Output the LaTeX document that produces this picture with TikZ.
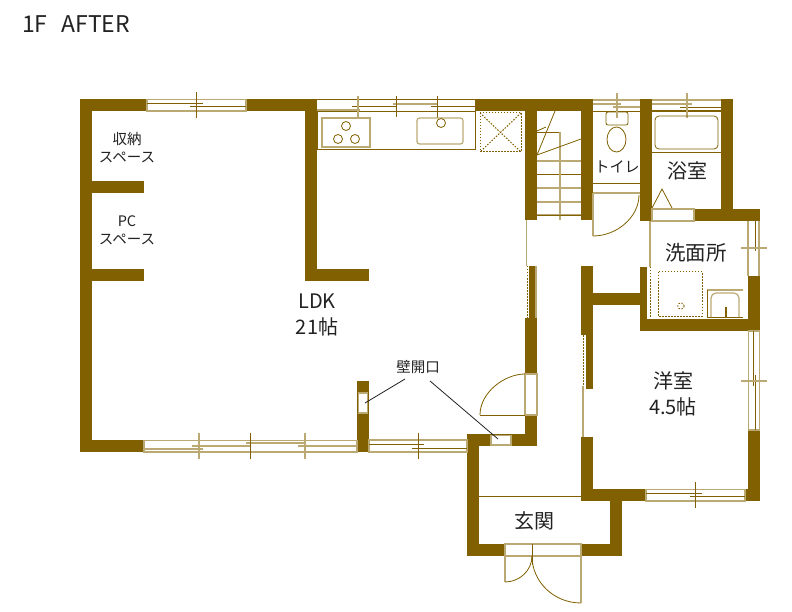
\documentclass[tikz,border=0pt]{standalone}
\usepackage{fontspec}
\setmainfont{Noto Sans CJK JP}
\definecolor{wallbrown}{HTML}{806000}
\definecolor{paletan}{HTML}{BBA973}
\definecolor{inkgray}{HTML}{222222}
\newcommand{\fs}[1]{\fontsize{#1}{#1}\selectfont}
\begin{document}
\begin{tikzpicture}[x=1pt,y=-1pt]
            \tikzstyle{wall}=[fill=wallbrown,draw=none]
            \tikzstyle{sash}=[draw=paletan,line width=1.2pt,fill=white]
            \tikzstyle{pale}=[draw=paletan,line width=1.2pt]
            \tikzstyle{fine}=[draw=wallbrown,line width=.8pt]
            \tikzstyle{dots}=[draw=wallbrown,line width=1pt,dash pattern=on 1.5pt off 1.5pt]
            \tikzstyle{leader}=[draw=inkgray,line width=.8pt]
            \tikzstyle{room}=[text=inkgray,inner sep=0pt,align=center]
            \tikzstyle{smallroom}=[room,font=\fs{14.5}]
            \tikzstyle{bigroom}=[room,font=\fs{20}]

            \useasboundingbox (0,0) rectangle (792,612);

            % outer walls, left block
            \fill[wall] (80,99) rectangle (147,111);
            \fill[wall] (246,99) rectangle (317,111);
            \fill[wall] (80,99) rectangle (92,452);
            \fill[wall] (80,440) rectangle (144,452);
            \fill[wall] (92,181) rectangle (144,193);
            \fill[wall] (92,269) rectangle (144,281);
            \fill[wall] (305,99) rectangle (317,281);
            \fill[wall] (305,269) rectangle (369,281);
            \fill[wall] (357,381) rectangle (369,452);

            % stair and hall walls
            \fill[wall] (475,99) rectangle (593,111);
            \fill[wall] (525,99) rectangle (537,220);
            \fill[wall] (581,99) rectangle (593,220);
            \fill[wall] (529,266) rectangle (535,318);
            \fill[wall] (525,318) rectangle (537,374);
            \fill[wall] (525,415) rectangle (537,446);
            \fill[wall] (467,434) rectangle (537,446);
            \fill[wall] (467,434) rectangle (479,556);
            \fill[wall] (467,544) rectangle (505,556);
            \fill[wall] (581,544) rectangle (622,556);
            \fill[wall] (610,489) rectangle (622,556);

            % bath and washroom walls
            \fill[wall] (640,99) rectangle (652,221);
            \fill[wall] (721,99) rectangle (733,221);
            \fill[wall] (694,209) rectangle (760,221);
            \fill[wall] (748,276) rectangle (760,331);
            \fill[wall] (640,267) rectangle (647,331);
            \fill[wall] (640,319) rectangle (760,331);

            % bedroom walls
            \fill[wall] (581,266) rectangle (593,335);
            \fill[wall] (593,293) rectangle (640,305);
            \fill[wall] (586,335) rectangle (593,389);
            \fill[wall] (581,437) rectangle (593,501);
            \fill[wall] (581,489) rectangle (646,501);
            \fill[wall] (745,489) rectangle (760,501);
            \fill[wall] (748,430) rectangle (760,501);

            % top left window
            \draw[sash] (147,99.5) rectangle (246,111);
            \draw[fine] (147,103) -- (203,103);
            \draw[fine] (190,106) -- (246,106);
            \draw[fine] (196,92) -- (196,118);

            % kitchen window and counter
            \draw[fine] (317,99.5) -- (475,99.5);
            \draw[pale] (317,110) -- (360,110);
            \draw[fine] (317,111.5) rectangle (475,149);
            \draw[fine] (352,106) -- (396,106);
            \draw[pale] (393,104) -- (437,104);
            \draw[fine] (431,106) -- (475,106);
            \draw[pale] (358,96) -- (358,118);
            \draw[fine] (396,96) -- (396,117);
            \draw[fine] (437,96) -- (437,118);
            \draw[pale] (322,118) rectangle (370,147);
            \draw[fine] (346,126) circle (4.5);
            \draw[fine] (338,139) circle (4.5);
            \draw[fine] (355,139) circle (4.5);
            \draw[pale,rounded corners=2.5pt] (417,118) rectangle (463,144);
            \draw[fine,fill=white] (441,123) circle (4.5);

            % fridge space
            \draw[dots] (480,113) rectangle (521,152);
            \draw[dots] (480,113) -- (521,152);
            \draw[dots] (521,113) -- (480,152);

            % stairs
            \draw[fine] (537,132) -- (560,132);
            \draw[pale] (537,161) -- (581,161);
            \draw[fine] (537,174) -- (581,174);
            \draw[pale] (537,188) -- (581,188);
            \draw[pale] (537,202) -- (581,202);
            \draw[pale] (537,215) -- (581,215);
            \draw[pale] (560,132) -- (560,220);
            \draw[fine] (537,155) -- (581,139);
            \draw[fine] (537,155) -- (555,111);
            \draw[fine] (537,131) -- (546,127);

            % toilet
            \draw[pale] (593,100) -- (640,100);
            \draw[fine] (593,111) -- (640,111);
            \draw[pale] (593,104) -- (621,104);
            \draw[pale] (613,107) -- (640,107);
            \draw[fine,rounded corners=2pt] (606,112) rectangle (628,125);
            \draw[fine] (616.5,139.5) ellipse (9.5 and 12.5);
            \draw[pale] (617,93) -- (617,118);
            \draw[fine] (593,183) -- (640,183);
            \draw[pale] (593,193) -- (640,193);
            \draw[pale] (593,193) -- (593,236);
            \draw[fine] (593,236) .. controls (617,236) and (639,217) .. (639,195);

            % bath
            \draw[pale] (652,100) -- (721,100);
            \draw[fine,line width=1.2pt] (652,111) -- (721,111);
            \draw[pale] (652,104) -- (692,104);
            \draw[fine] (680,107) -- (721,107);
            \draw[pale] (687,93) -- (687,118);
            \draw[fine,rounded corners=4pt] (655,116) rectangle (718,149);
            \draw[fine] (652,152) -- (721,152);
            \draw[fine] (652,208) -- (662,189) -- (672,208);
            \draw[sash] (652,209) rectangle (694,221);

            % washroom
            \draw[pale] (650,221) -- (650,267);
            \draw[dots] (650,267) -- (650,318);
            \draw[pale] (748,221) -- (748,276);
            \draw[pale] (759,221) -- (759,276);
            \draw[fine] (755,221) -- (755,251);
            \draw[pale] (741,248) -- (767,248);
            \draw[dots] (658,272) rectangle (702,316);
            \draw[dots,line width=.8pt] (681,306) circle (3.2);
            \draw[pale] (707,290) -- (743,290);
            \draw[fine] (707,290) -- (707,317);
            \draw[fine] (707,317) -- (743,317);
            \draw[pale,rounded corners=5pt] (711,317) -- (711,293) -- (739,293) -- (739,317);
            \draw[fine,line width=1.6pt] (726,307) -- (726,317);

            % bedroom openings
            \draw[sash] (748.5,331) rectangle (759.5,430);
            \draw[fine] (753,331) -- (753,386);
            \draw[fine] (755.5,375) -- (755.5,430);
            \draw[pale] (741,381) -- (767,381);
            \draw[sash] (646,489.5) rectangle (745,501);
            \draw[fine] (646,493) -- (702,493);
            \draw[fine] (690,496) -- (745,496);
            \draw[fine] (695,482) -- (695,508);
            \draw[dots] (583,335) -- (583,386);
            \draw[pale] (583,386) -- (583,437);

            % hall openings
            \draw[fine] (537,215) -- (581,215);
            \draw[pale] (526.5,220) -- (526.5,266);
            \draw[dots] (527,266) -- (527,318);
            \draw[pale] (536,266) -- (536,318);
            \draw[fine] (479,496) -- (581,496);

            % hall door
            \draw[sash] (525,374) rectangle (537,415);
            \draw[fine] (480,415) -- (525,415);
            \draw[fine] (480,415) .. controls (480,392) and (505,374) .. (525,374);

            % wall openings
            \draw[sash] (358.5,393) rectangle (367.5,413);
            \draw[sash] (491,435.5) rectangle (511,445);

            % bottom windows
            \draw[sash] (144,440.5) rectangle (357,452);
            \draw[pale] (144,449) -- (203,449);
            \draw[pale] (192,446) -- (250,446);
            \draw[pale] (246,443) -- (305,443);
            \draw[pale] (298,446) -- (357,446);
            \draw[pale] (199,433) -- (199,459);
            \draw[fine] (250,433) -- (250,459);
            \draw[pale] (305,433) -- (305,459);
            \draw[sash] (369,440) rectangle (467,452);
            \draw[fine] (369,444) -- (424,444);
            \draw[fine] (412,448) -- (467,448);
            \draw[fine] (418,433) -- (418,459);

            % entrance door
            \draw[sash] (505,544) rectangle (581,556);
            \draw[fine] (532,544) -- (532,565);
            \draw[pale] (505,556) -- (505,582);
            \draw[pale] (581,556) -- (581,603);
            \draw[fine] (505,582) .. controls (520,582) and (532,570) .. (532,556);
            \draw[fine] (581,603) .. controls (554,603) and (532,582) .. (532,556);

            % room names
            \node[room,font=\fs{23}] (title) at (76,24) {1F\hspace{.6em}AFTER};
            \node[smallroom] (storage) at (127,148) {収納\\[3.5pt]スペース};
            \node[smallroom] (pcspace) at (127,230) {PC\\[3.5pt]スペース};
            \node[bigroom] (ldk) at (317,315) {LDK\\[6pt]21帖};
            \node[room,font=\fs{15}] (toilet) at (617,167) {トイレ};
            \node[bigroom] (bath) at (687,171) {浴室};
            \node[room,font=\fs{20.5}] (washroom) at (696,253) {洗面所};
            \node[bigroom] (bedroom) at (673,394) {洋室\\[6pt]4.5帖};
            \node[bigroom] (entrance) at (534,521) {玄関};
            \node[smallroom] (opening) at (418,367) {壁開口};

            % leaders to the wall openings
            \coordinate (leftend) at (365,403);
            \coordinate (rightend) at (498,439);
            \coordinate (leftstart) at (405,379);
            \coordinate (rightstart) at (430,381);
            \draw[leader] (leftstart) -- (leftend);
            \draw[leader] (rightstart) -- (rightend);
\end{tikzpicture}
\end{document}
